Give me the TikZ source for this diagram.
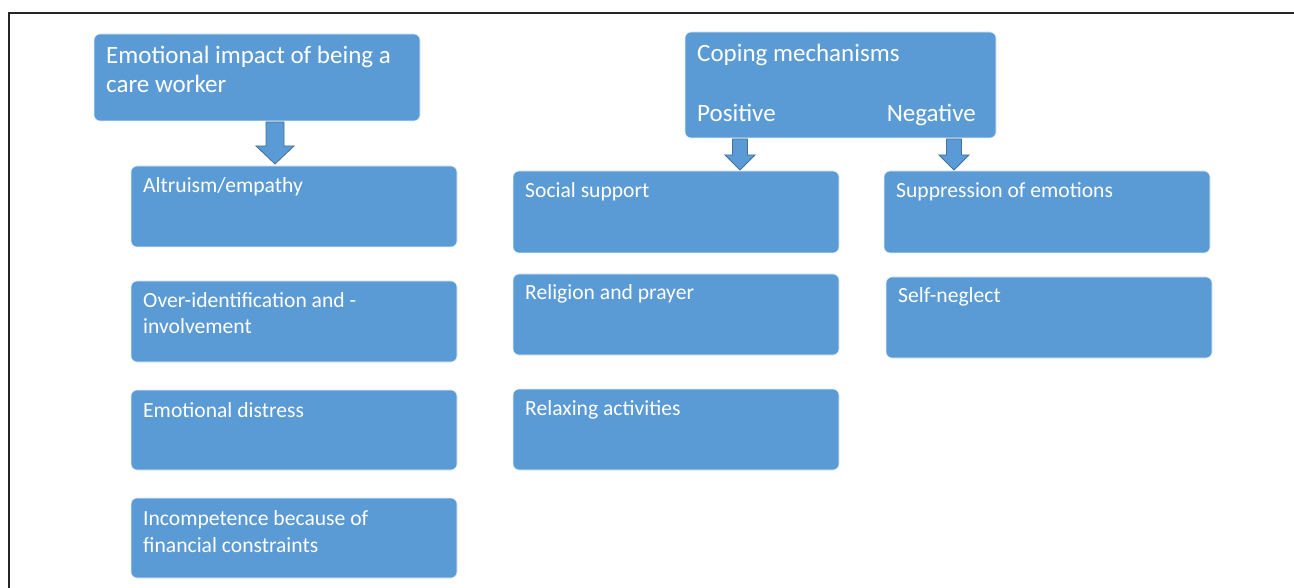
\documentclass[tikz,border=0pt]{standalone}
\usepackage{fontspec}
\setmainfont{Carlito}
\definecolor{boxblue}{HTML}{5B9BD5}
\definecolor{arrowedge}{HTML}{41719C}
\begin{document}
\begin{tikzpicture}[x=1pt,y=-1pt,
  bluebox/.style={draw=white!85!boxblue, line width=0.6pt, fill=boxblue, rounded corners=6pt},
  bigtxt/.style={text=white, font=\fontsize{25}{29}\selectfont, align=left, inner sep=0pt, anchor=base west},
  smalltxt/.style={text=white, font=\fontsize{21.6}{26.5}\selectfont, align=left, inner sep=0pt, anchor=base west},
  blockarrow/.style={fill=boxblue, draw=arrowedge, line width=0.8pt, line join=miter}]
\useasboundingbox (0,0) rectangle (1294,588);
\fill[white] (0,0) rectangle (1294,588);
\draw[line width=2pt, black!85] (9,588) -- (9,13) -- (1294,13);

% left column
\filldraw[bluebox] (94,34) rectangle (420,121);
\node[bigtxt] (emo) at (106,93) {Emotional impact of being a\\care worker};
\coordinate (a1top) at (275,122);
\coordinate (a1tip) at (275,164);
\filldraw[blockarrow] (a1top) ++(-9,0) -- ++(0,24) -- ++(-10,0) -- (a1tip) -- ++(19,-18) -- ++(-10,0) -- ++(0,-24) -- cycle;

\filldraw[bluebox] (131,166) rectangle (457,247);
\node[smalltxt] (alt) at (143,193) {Altruism/empathy};
\filldraw[bluebox] (131,281) rectangle (457,362);
\node[smalltxt] (over) at (143,334) {Over-identification and -\\involvement};
\filldraw[bluebox] (131,390) rectangle (457,470);
\node[smalltxt] (dist) at (143,417) {Emotional distress};
\filldraw[bluebox] (131,498) rectangle (457,578);
\node[smalltxt] (inc) at (143,552) {Incompetence because of\\financial constraints};

% right part
\filldraw[bluebox] (685,32) rectangle (996,138);
\node[bigtxt] (cop) at (697,62) {Coping mechanisms};
\node[bigtxt] (pos) at (697,122) {Positive};
\node[bigtxt, anchor=base east] (neg) at (976,122) {Negative};

\coordinate (a2top) at (740,139);
\coordinate (a2tip) at (740,170);
\filldraw[blockarrow] (a2top) ++(-7.5,0) -- ++(0,16) -- ++(-7.5,0) -- (a2tip) -- ++(15,-15) -- ++(-7.5,0) -- ++(0,-16) -- cycle;
\coordinate (a3top) at (954,139);
\coordinate (a3tip) at (954,170);
\filldraw[blockarrow] (a3top) ++(-7.5,0) -- ++(0,16) -- ++(-7.5,0) -- (a3tip) -- ++(15,-15) -- ++(-7.5,0) -- ++(0,-16) -- cycle;

\filldraw[bluebox] (513,171) rectangle (839,253);
\node[smalltxt] (soc) at (525,198) {Social support};
\filldraw[bluebox] (513,274) rectangle (839,355);
\node[smalltxt] (rel) at (525,300) {Religion and prayer};
\filldraw[bluebox] (513,389) rectangle (839,470);
\node[smalltxt] (rlx) at (525,415) {Relaxing activities};
\filldraw[bluebox] (884,171) rectangle (1210,253);
\node[smalltxt] (sup) at (896,198) {Suppression of emotions};
\filldraw[bluebox] (886,277) rectangle (1212,358);
\node[smalltxt] (self) at (898,303) {Self-neglect};
\end{tikzpicture}
\end{document}
